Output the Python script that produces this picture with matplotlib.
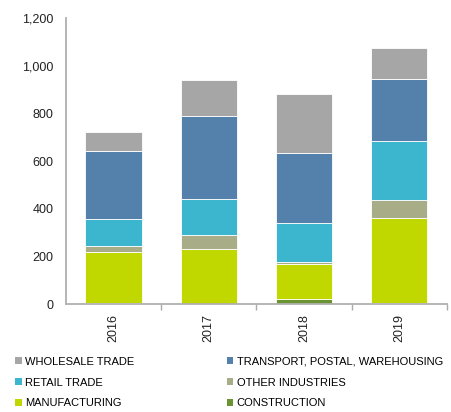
import matplotlib
matplotlib.use("Agg")
import matplotlib.pyplot as plt
from matplotlib.patches import Patch
import numpy as np

plt.rcParams['font.family'] = ['Liberation Sans', 'DejaVu Sans']

years = ["2016", "2017", "2018", "2019"]
construction = [3, 2, 22, 4]
manufacturing = [214, 229, 145, 356]
other_industries = [25, 57, 8, 75]
retail_trade = [115, 155, 166, 248]
transport = [286, 347, 293, 262]
wholesale_trade = [80, 151, 246, 129]

series = [
    ("CONSTRUCTION", construction, "#6A9432"),
    ("MANUFACTURING", manufacturing, "#C0D700"),
    ("OTHER INDUSTRIES", other_industries, "#A8AD88"),
    ("RETAIL TRADE", retail_trade, "#3BB6CE"),
    ("TRANSPORT, POSTAL, WAREHOUSING", transport, "#5481AC"),
    ("WHOLESALE TRADE", wholesale_trade, "#A6A6A6"),
]

fig = plt.figure(figsize=(4.51, 4.12), dpi=100)
ax = fig.add_axes([0.146, 0.262, 0.845, 0.694])

x = np.arange(len(years))
bottom = np.zeros(len(years))
for name, vals, color in series:
    ax.bar(x, vals, 0.59, bottom=bottom, color=color, edgecolor="white",
           linewidth=0.6, label=name)
    bottom += np.array(vals)

ax.set_xlim(-0.5, 3.5)
ax.set_ylim(0, 1200)
ax.set_yticks(range(0, 1201, 200))
ax.set_yticklabels([f"{v:,}" for v in range(0, 1201, 200)])
ax.tick_params(axis="y", length=0, pad=9, labelsize=9, colors="#222222")

ax.set_xticks(x)
ax.set_xticklabels(years, rotation=90)
ax.tick_params(axis="x", which="major", length=0, pad=7, labelsize=9, colors="#222222")
ax.set_xticks([0.5, 1.5, 2.5, 3.5], minor=True)
ax.tick_params(axis="x", which="minor", length=4, width=1, color="#AAAAAA", direction="out")

for side in ["top", "right"]:
    ax.spines[side].set_visible(False)
for side in ["left", "bottom"]:
    ax.spines[side].set_color("#B0B0B0")
    ax.spines[side].set_linewidth(1.3)

colors = {name: color for name, _, color in series}
order = ["WHOLESALE TRADE", "RETAIL TRADE", "MANUFACTURING",
         "TRANSPORT, POSTAL, WAREHOUSING", "OTHER INDUSTRIES", "CONSTRUCTION"]
handles = [Patch(facecolor=colors[n], edgecolor="none", label=n) for n in order]
fig.legend(handles=handles, ncol=2, loc="upper left",
           bbox_to_anchor=(0.034, 0.134), frameon=False, fontsize=8.0,
           handlelength=0.6, handleheight=0.6, handletextpad=0.3,
           columnspacing=8.3, labelspacing=0.97, borderaxespad=0, borderpad=0)

fig.savefig("out.png", dpi=100)
